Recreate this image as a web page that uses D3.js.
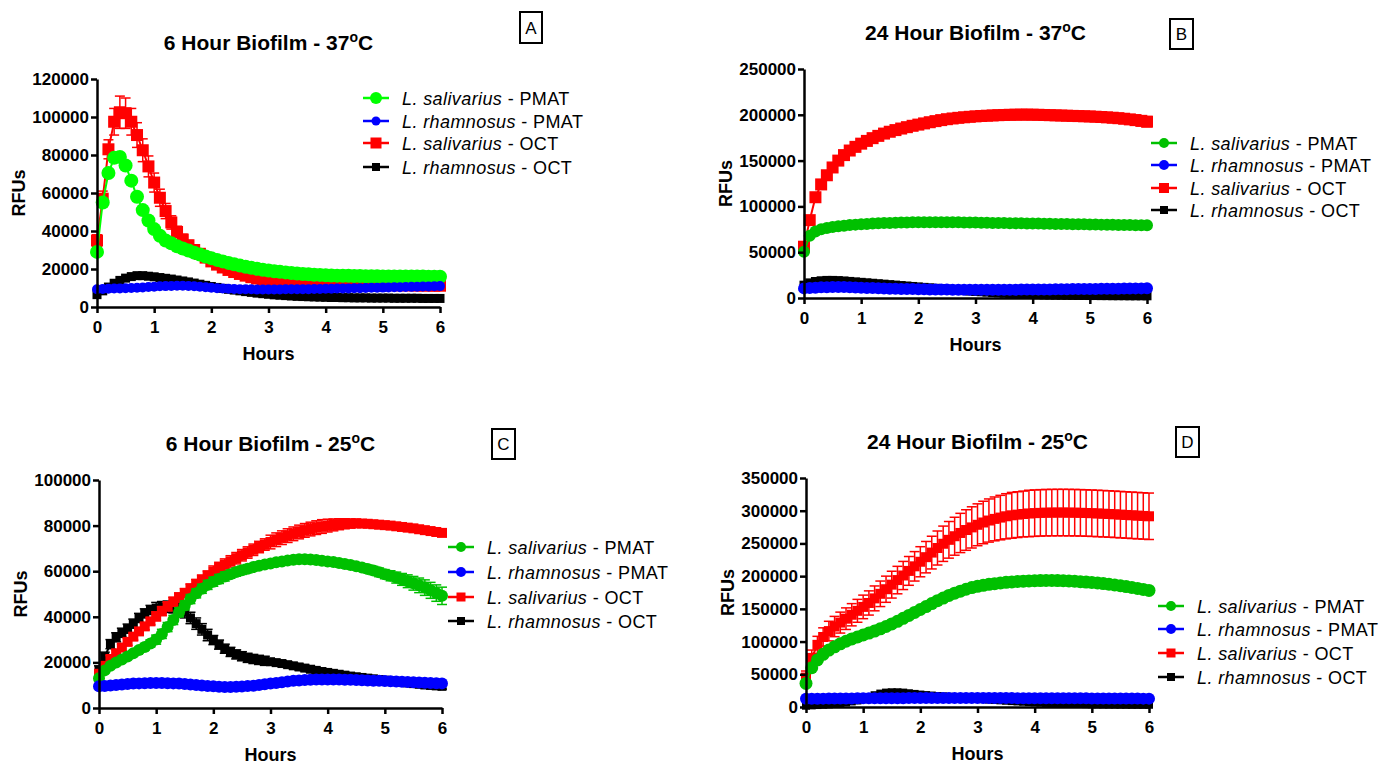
<!DOCTYPE html>
<html lang="en">
<head>
<meta charset="utf-8">
<script src="https://cdnjs.cloudflare.com/ajax/libs/d3/7.8.5/d3.min.js"></script>
<style>
  body { margin: 0; background: #fff; }
  svg { display: block; font-family: "Liberation Sans", Arial, sans-serif; }
</style>
</head>
<body>
<svg id="chart" width="1398" height="764"></svg>
<script>

// time points (hours)
const hours = [0,0.1,0.2,0.3,0.4,0.5,0.6,0.7,0.8,0.9,
  1,1.1,1.2,1.3,1.4,1.5,1.6,1.7,1.8,1.9,
  2,2.1,2.2,2.3,2.4,2.5,2.6,2.7,2.8,2.9,
  3,3.1,3.2,3.3,3.4,3.5,3.6,3.7,3.8,3.9,
  4,4.1,4.2,4.3,4.4,4.5,4.6,4.7,4.8,4.9,
  5,5.1,5.2,5.3,5.4,5.5,5.6,5.7,5.8,5.9,6];
const xTicks = [0,1,2,3,4,5,6];

// legend labels
const species = ["L. salivarius", "L. rhamnosus", "L. salivarius", "L. rhamnosus"];
const treatments = ["PMAT", "PMAT", "OCT", "OCT"];

// panel titles (followed by superscript o + C)
const titles = ["6 Hour Biofilm - 37", "24 Hour Biofilm - 37", "6 Hour Biofilm - 25", "24 Hour Biofilm - 25"];
const letters = ["A", "B", "C", "D"];

// ---- A: 6 hour biofilm, 37C ----
const yTicksA = [0,20000,40000,60000,80000,100000,120000];
const A_salPMAT = [29000,55000,70500,78500,79000,74500,66500,58000,51000,45500,
  41000,37500,35000,33500,32000,30800,29700,28600,27600,26600,
  25700,24800,24000,23200,22500,21800,21200,20600,20100,19600,
  19200,18800,18500,18200,17900,17600,17400,17200,17000,16900,
  16700,16600,16500,16400,16400,16300,16300,16200,16200,16200,
  16100,16100,16100,16000,16000,16000,16000,16000,15900,15900,15900];
const A_rhaPMAT = [9300,9500,9600,9700,9800,9900,10000,10100,10300,10500,
  10700,10900,11000,11100,11200,11200,11100,10900,10700,10400,
  10100,9900,9700,9600,9500,9400,9300,9300,9200,9200,
  9200,9200,9200,9300,9300,9300,9400,9400,9500,9500,
  9600,9600,9700,9700,9800,9900,9900,10000,10100,10100,
  10200,10300,10400,10400,10500,10600,10700,10800,10800,10900,11000];
const A_salOCT = [35000,57000,83000,97500,102500,102000,97500,90500,82500,74000,
  65500,57500,50500,44500,39500,35500,32500,30000,28000,26000,
  24000,22300,20800,19500,18400,17400,16500,15700,15000,14400,
  13900,13500,13200,12900,12700,12500,12400,12300,12200,12100,
  12000,11900,11900,11800,11800,11700,11700,11600,11600,11600,
  11500,11500,11500,11400,11400,11400,11300,11300,11300,11200,11200];
const A_salOCT_err = [3000,4000,5000,7000,8500,8000,7000,6500,6000,5500,
  5000,4500,4000,3500,3000,2800,2500,2200,2000,1800,
  1600,1500,1400,1300,1200,1100,1000,1000,900,900,
  800,800,800,800,800,700,700,700,700,700,
  700,700,700,700,700,600,600,600,600,600,
  600,600,600,600,600,600,600,600,600,600,600];
const A_rhaOCT = [6500,8500,10500,12500,14000,15200,16000,16500,16500,16200,
  15900,15500,15100,14700,14200,13700,13200,12600,12000,11400,
  10800,10300,9800,9300,8900,8500,8100,7700,7300,7000,
  6700,6400,6200,6000,5800,5600,5500,5400,5300,5200,
  5100,5000,5000,4900,4900,4800,4800,4800,4700,4700,
  4700,4700,4600,4600,4600,4600,4600,4500,4500,4500,4500];

// ---- B: 24 hour biofilm, 37C ----
const yTicksB = [0,50000,100000,150000,200000,250000];
const B_salPMAT = [50500,68000,72500,75000,76500,77500,78300,79000,79600,80100,
  80500,80900,81200,81500,81800,82000,82200,82400,82500,82600,
  82700,82800,82800,82800,82800,82700,82700,82600,82500,82400,
  82300,82200,82100,82000,81900,81800,81700,81600,81500,81400,
  81300,81200,81100,81000,80900,80800,80700,80600,80500,80400,
  80300,80200,80100,80000,79900,79800,79700,79600,79500,79400,79300];
const B_rhaPMAT = [10500,11000,11300,11600,11800,12000,12000,11900,11700,11500,
  11200,11000,10800,10600,10400,10200,10000,9900,9800,9700,
  9600,9500,9400,9300,9200,9200,9100,9100,9000,9000,
  9000,9000,9000,9000,9000,9100,9100,9100,9200,9200,
  9300,9300,9400,9400,9500,9500,9600,9700,9700,9800,
  9900,9900,10000,10100,10200,10200,10300,10400,10500,10500,10600];
const B_salOCT = [56000,85000,110000,124000,134000,142500,150000,156000,161000,165000,
  168500,171500,174500,177000,179500,181500,183300,185000,186500,188000,
  189300,190600,191900,193100,194200,195200,196000,196700,197300,197800,
  198300,198700,199000,199300,199600,199800,200000,200100,200200,200200,
  200100,200000,199800,199600,199400,199200,199000,198800,198600,198400,
  198200,197900,197600,197200,196800,196300,195700,195000,194200,193400,192500];
const B_salOCT_err = [3000,4000,4000,4000,3500,3500,3000,3000,3000,3000,
  3000,3000,3000,3000,3000,3000,3000,3000,3000,3000,
  3000,3000,3000,3500,4000,4000,4000,4000,4000,4000,
  4000,4000,4000,4000,4000,4000,4000,4000,4000,4000,
  4000,4000,4000,4000,4000,4000,4000,4000,4000,4000,
  4500,4500,4500,4500,5000,5000,5000,5000,5500,5500,5500];
const B_rhaOCT = [14000,16500,18000,18800,19200,19200,19000,18600,18100,17600,
  17100,16600,16100,15600,15100,14600,14100,13600,13100,12600,
  12100,11600,11100,10600,10100,9600,9100,8600,8100,7600,
  7200,6800,6400,6000,5600,5200,4900,4600,4300,4000,
  3800,3600,3400,3300,3200,3100,3000,2900,2800,2800,
  2700,2700,2600,2600,2500,2500,2500,2400,2400,2400,2400];

// ---- C: 6 hour biofilm, 25C ----
const yTicksC = [0,20000,40000,60000,80000,100000];
const C_salPMAT = [13000,16500,18500,20000,21300,22600,24000,25400,26800,28300,
  30000,32500,35500,38600,42000,45000,47800,50300,52300,54000,
  55400,56600,57700,58700,59600,60400,61100,61800,62400,62900,
  63400,63900,64300,64700,65000,65200,65200,65100,64900,64600,
  64300,64000,63600,63200,62700,62200,61600,61000,60300,59500,
  58700,58000,57200,56400,55600,54700,53800,52800,51600,50400,49200];
const C_salPMAT_err = [1000,1000,1000,1000,1000,1000,1200,1200,1500,1500,
  2000,2000,2000,2000,2000,2000,2000,2000,2000,2000,
  2000,2000,2000,1800,1800,1800,1800,1500,1500,1500,
  1500,1500,1500,1500,1500,1500,1500,1500,1500,1500,
  1500,1500,1500,1500,1500,1500,1600,1700,1800,1900,
  2000,2200,2400,2600,2800,3000,3200,3400,3500,3600,3800];
const C_rhaPMAT = [9500,9700,9900,10100,10300,10500,10700,10800,10900,11000,
  11000,11000,10900,10800,10700,10500,10300,10100,9900,9700,
  9500,9300,9200,9200,9300,9400,9600,9800,10100,10400,
  10700,11000,11300,11600,11900,12100,12300,12400,12500,12500,
  12500,12500,12500,12400,12400,12300,12200,12100,12000,11900,
  11800,11700,11600,11500,11400,11300,11200,11100,11000,10900,10800];
const C_salOCT = [15000,18500,21500,24000,26500,29000,31300,33600,35800,38000,
  40200,42500,44600,46600,48500,50400,52400,54400,56300,58100,
  59800,61400,62900,64300,65700,67000,68200,69400,70600,71700,
  72800,73800,74700,75600,76400,77200,77900,78500,79100,79600,
  80000,80300,80600,80800,80900,81000,80900,80800,80600,80400,
  80200,80000,79700,79400,79100,78800,78400,78000,77600,77200,76800];
const C_salOCT_err = [1500,1500,1500,1500,1500,1500,1500,1500,1500,1500,
  2000,2000,2000,2000,2000,2000,2000,2000,2000,2000,
  2500,2500,2500,2500,2500,2500,2500,2500,2500,2500,
  3000,3000,3000,3000,3000,3000,3000,3000,3000,3000,
  2800,2600,2400,2200,2000,1800,1600,1500,1400,1300,
  1200,1200,1200,1200,1200,1200,1200,1200,1200,1200,1200];
const C_rhaOCT = [16500,22500,28000,31000,33000,34800,37000,39500,41500,43000,
  43800,44200,44400,44200,43500,42000,39500,37000,34500,32000,
  29800,27800,26000,24600,23500,22700,22000,21500,21100,20700,
  20300,19900,19500,19000,18500,18000,17500,17000,16500,16000,
  15600,15200,14800,14400,14000,13700,13400,13100,12800,12500,
  12200,11900,11600,11300,11000,10700,10400,10100,9900,9700,9500];
const C_rhaOCT_err = [2000,2000,2000,2000,2000,2000,2000,2000,2000,2000,
  2500,2500,2500,2500,2500,2500,2500,2500,2500,2500,
  2000,2000,2000,2000,2000,2000,2000,2000,2000,2000,
  1200,1200,1200,1200,1200,1200,1200,1200,1200,1200,
  1200,1200,1200,1200,1200,1200,1200,1200,1200,1200,
  1200,1200,1200,1200,1200,1200,1200,1200,1200,1200,1200];

// ---- D: 24 hour biofilm, 25C ----
const yTicksD = [0,50000,100000,150000,200000,250000,300000,350000];
const D_salPMAT = [36000,60000,72000,80500,87000,92000,96500,100500,104000,107000,
  110000,113000,116000,119500,123000,127000,131000,135500,140000,144500,
  149000,153500,158000,162500,166500,170500,174000,177000,180000,182500,
  184500,186000,187500,188500,189500,190500,191200,191800,192300,192700,
  193000,193200,193300,193300,193200,193000,192600,192200,191600,191000,
  190300,189500,188600,187600,186500,185300,184000,182600,181200,179700,178200];
const D_salPMAT_err = [2000,2500,3000,3000,3000,3000,3000,3000,3000,3000,
  3000,3000,3000,3000,3000,3000,3000,3000,3500,3500,
  3500,3500,3500,4000,4000,4000,4000,4000,4500,4500,
  4500,4500,5000,5000,5000,5000,5000,5000,5000,5000,
  5000,5000,5000,5000,5000,5000,5000,5000,5000,5000,
  5000,5000,5000,5000,5000,5000,5000,5000,5000,5000,5000];
const D_rhaPMAT = [12500,12600,12700,12800,12900,13000,13000,13100,13100,13200,
  13200,13300,13300,13400,13400,13500,13500,13500,13600,13600,
  13600,13600,13700,13700,13700,13700,13700,13700,13700,13700,
  13700,13700,13700,13600,13600,13600,13600,13500,13500,13500,
  13500,13400,13400,13400,13300,13300,13300,13200,13200,13200,
  13100,13100,13100,13000,13000,13000,12900,12900,12900,12800,12800];
const D_salOCT = [45000,75000,95000,107000,116000,123000,129000,135000,141000,147000,
  153000,159000,166000,173000,180000,187000,194000,201000,208000,215000,
  222000,229000,236000,243000,249500,255500,261000,266000,270500,274500,
  278500,282000,285000,287500,289500,291500,293000,294000,295000,295800,
  296300,296700,297000,297100,297200,297200,297100,297000,296800,296500,
  296200,295800,295400,295000,294500,294000,293500,293000,292500,292000,291500];
const D_salOCT_err = [10000,12000,13000,14000,15000,15500,16000,16500,17000,17500,
  18000,18500,19000,19500,20000,20500,21000,21500,22000,22500,
  23000,24000,25000,26000,27000,28000,29000,30000,31000,31500,
  32000,32500,33000,33500,34000,34500,35000,35000,35000,35500,
  35500,35500,35500,35500,35500,35500,35500,35500,35500,35500,
  35500,35500,35500,35500,35500,35500,35500,35500,35500,35500,35500];
const D_rhaOCT = [2000,2500,3000,3500,4000,5000,6000,7000,8500,10000,
  12000,15000,18000,20500,22000,22500,22500,22000,21000,20000,
  19000,18200,17500,16800,16200,15600,15000,14400,13800,13200,
  12600,12000,11400,10800,10200,9600,9000,8500,8000,7500,
  7000,6600,6200,5800,5500,5200,5000,4800,4600,4400,
  4200,4100,4000,3900,3800,3700,3600,3500,3500,3400,3400];

// ---- layout ----
const panels = [
  { title: titles[0], letter: letters[0], left: 97, right: 440, top: 79, bottom: 307, yTicks: yTicksA,
    box: [520, 12, 22, 31], legX: 376, legText: 402, legY: [98, 121, 143, 167],
    green: "#00ff00",
    data: [A_salPMAT, A_rhaPMAT, A_salOCT, A_rhaOCT], err: [null, null, A_salOCT_err, null],
    size: [7, 5, 12, 9], leg: [6, 4.5, 11, 8] },
  { title: titles[1], letter: letters[1], left: 804, right: 1147, top: 69, bottom: 298, yTicks: yTicksB,
    box: [1170, 19, 23, 30], legX: 1164, legText: 1190, legY: [143, 165, 188, 210],
    green: "#00c000",
    data: [B_salPMAT, B_rhaPMAT, B_salOCT, B_rhaOCT], err: [null, null, B_salOCT_err, null],
    size: [6, 6, 12, 9], leg: [5, 5, 10, 8] },
  { title: titles[2], letter: letters[2], left: 99, right: 442, top: 480, bottom: 708, yTicks: yTicksC,
    box: [492, 429, 23, 30], legX: 461, legText: 487, legY: [547, 572, 597, 621],
    green: "#00c000",
    data: [C_salPMAT, C_rhaPMAT, C_salOCT, C_rhaOCT], err: [C_salPMAT_err, null, C_salOCT_err, C_rhaOCT_err],
    size: [6, 6, 10, 9], leg: [5, 5, 9, 8] },
  { title: titles[3], letter: letters[3], left: 806, right: 1149, top: 478, bottom: 707, yTicks: yTicksD,
    box: [1176, 427, 23, 30], legX: 1171, legText: 1197, legY: [606, 629, 653, 677],
    green: "#00c000",
    data: [D_salPMAT, D_rhaPMAT, D_salOCT, D_rhaOCT], err: [D_salPMAT_err, null, D_salOCT_err, null],
    size: [6.5, 6, 10, 8], leg: [5, 5, 9, 8] }
];

const shapes = ["circle", "circle", "square", "square"];
const drawOrder = [3, 2, 0, 1]; // black, red, green, blue (blue/green on top)

const svg = d3.select("#chart");

function marker(g, shape, cx, cy, s, color) {
  if (shape === "circle") {
    g.append("circle").attr("cx", cx).attr("cy", cy).attr("r", s).attr("fill", color);
  } else {
    g.append("rect").attr("x", cx - s / 2).attr("y", cy - s / 2).attr("width", s).attr("height", s).attr("fill", color);
  }
}

function drawPanel(p) {
  const g = svg.append("g");
  const colors = [p.green, "#0000ff", "#ff0000", "#000000"];
  const x = d3.scaleLinear().domain([0, 6]).range([p.left, p.right]);
  const y = d3.scaleLinear().domain([0, d3.max(p.yTicks)]).range([p.bottom, p.top]);

  // data series
  drawOrder.forEach(k => {
    const vals = p.data[k], err = p.err[k], color = colors[k];
    const pts = hours.map((h, i) => ({ h: h, v: vals[i], e: err ? err[i] : 0 }));
    const sg = g.append("g");
    sg.append("path").datum(pts)
      .attr("d", d3.line().x(d => x(d.h)).y(d => y(d.v)))
      .attr("fill", "none").attr("stroke", color).attr("stroke-width", 2);
    if (err) {
      const eg = sg.append("g").attr("stroke", color).attr("stroke-width", 1.5);
      pts.forEach(d => {
        const cx = x(d.h), y1 = y(d.v + d.e), y2 = y(d.v - d.e);
        eg.append("line").attr("x1", cx).attr("x2", cx).attr("y1", y1).attr("y2", y2);
        eg.append("line").attr("x1", cx - 5).attr("x2", cx + 5).attr("y1", y1).attr("y2", y1);
        eg.append("line").attr("x1", cx - 5).attr("x2", cx + 5).attr("y1", y2).attr("y2", y2);
      });
    }
    pts.forEach(d => marker(sg, shapes[k], x(d.h), y(d.v), p.size[k], color));
  });

  // axes
  const yAxis = g.append("g").attr("transform", `translate(${p.left},0)`)
    .call(d3.axisLeft(y).tickValues(p.yTicks).tickSize(6).tickSizeOuter(0).tickPadding(2).tickFormat(d3.format("d")));
  const xAxis = g.append("g").attr("transform", `translate(0,${p.bottom})`)
    .call(d3.axisBottom(x).tickValues(xTicks).tickSize(6).tickSizeOuter(0).tickPadding(8).tickFormat(d3.format("d")));
  [yAxis, xAxis].forEach(a => {
    a.attr("font-family", null).attr("font-size", null);
    a.select(".domain").attr("stroke-width", 2.5);
    a.selectAll(".tick line").attr("stroke-width", 2.5);
    a.selectAll(".tick text").attr("font-size", 17).attr("font-weight", "bold").attr("fill", "#000");
  });

  // axis titles
  g.append("text")
    .attr("transform", `translate(${p.left - 72},${(p.top + p.bottom) / 2}) rotate(-90)`)
    .attr("text-anchor", "middle").attr("font-size", 18).attr("font-weight", "bold").text("RFUs");
  g.append("text")
    .attr("x", (p.left + p.right) / 2).attr("y", p.bottom + 53)
    .attr("text-anchor", "middle").attr("font-size", 18).attr("font-weight", "bold").text("Hours");

  // title with superscript degree
  const t = g.append("text").attr("x", (p.left + p.right) / 2).attr("y", p.top - 29)
    .attr("text-anchor", "middle").attr("font-size", 21).attr("font-weight", "bold");
  t.append("tspan").text(p.title);
  t.append("tspan").attr("dy", -8).attr("font-size", 14).text("o");
  t.append("tspan").attr("dy", 8).text("C");

  // panel letter box
  g.append("rect").attr("x", p.box[0]).attr("y", p.box[1]).attr("width", p.box[2]).attr("height", p.box[3])
    .attr("fill", "#fff").attr("stroke", "#000").attr("stroke-width", 2);
  g.append("text").attr("x", p.box[0] + p.box[2] / 2).attr("y", p.box[1] + p.box[3] / 2 + 6)
    .attr("text-anchor", "middle").attr("font-size", 17).text(p.letter);

  // legend
  const lg = g.append("g");
  [0, 1, 2, 3].forEach(k => {
    const ly = p.legY[k];
    lg.append("line").attr("x1", p.legX - 13).attr("x2", p.legX + 13).attr("y1", ly).attr("y2", ly)
      .attr("stroke", colors[k]).attr("stroke-width", 2.5);
    marker(lg, shapes[k], p.legX, ly, p.leg[k], colors[k]);
    const tx = lg.append("text").attr("x", p.legText).attr("y", ly + 6.5)
      .attr("font-size", 18).attr("letter-spacing", 0.4);
    tx.append("tspan").attr("font-style", "italic").text(species[k]);
    tx.append("tspan").text(" - " + treatments[k]);
  });
}

panels.forEach(drawPanel);
</script>
</body>
</html>
